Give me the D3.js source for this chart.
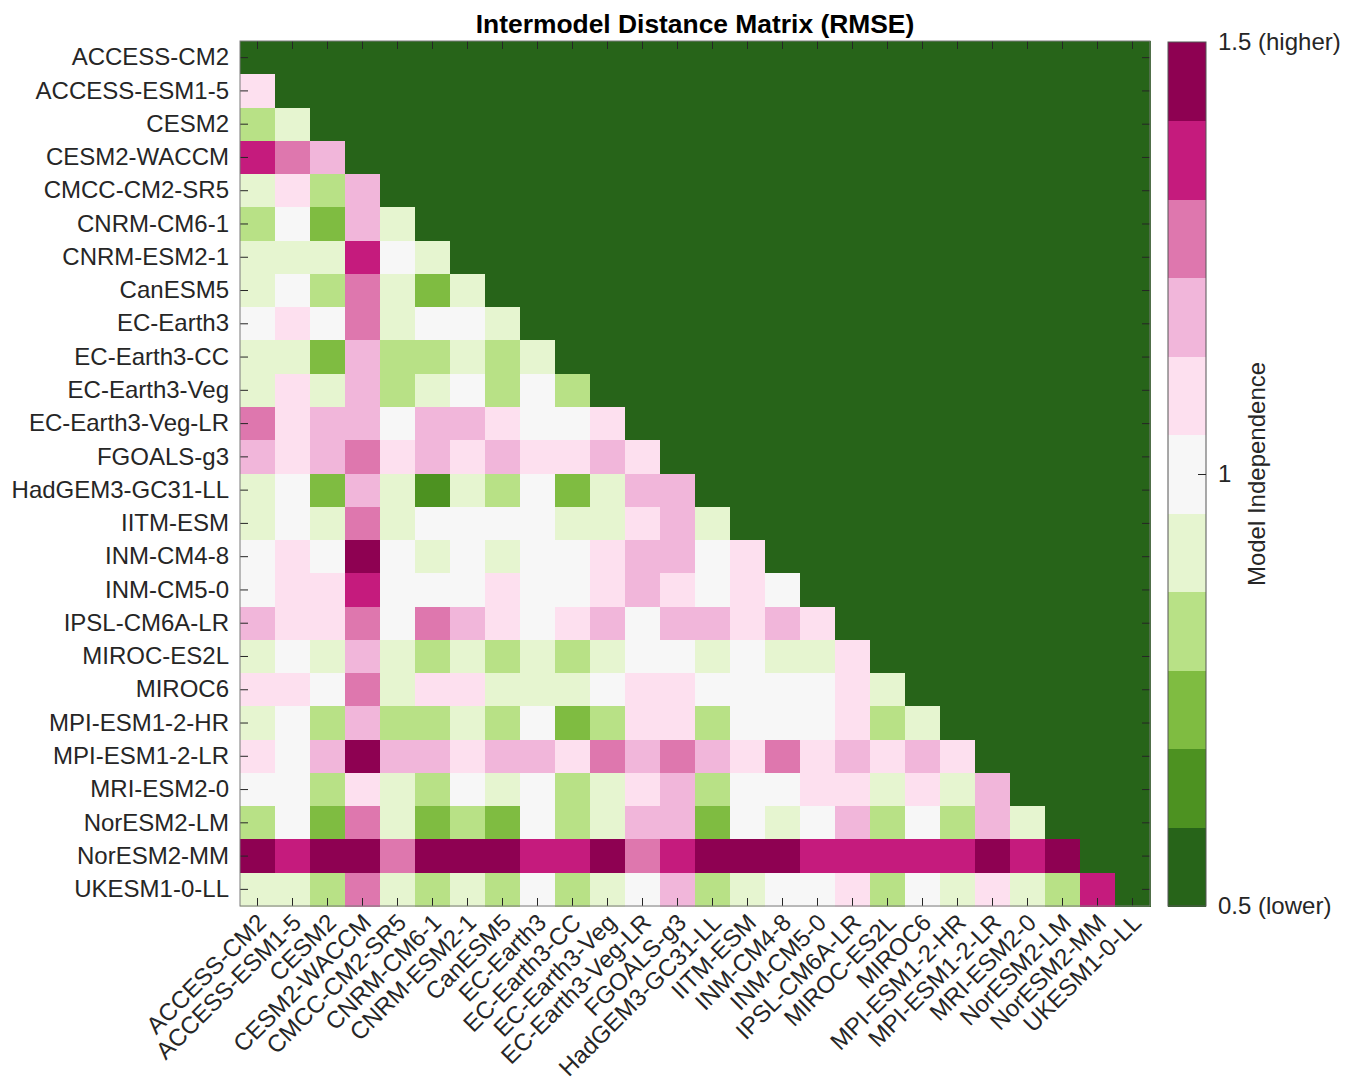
<!DOCTYPE html>
<html>
<head>
<meta charset="utf-8">
<script src="https://cdn.jsdelivr.net/npm/d3@7"></script>
<style>
  html, body { margin: 0; padding: 0; background: #ffffff; }
  svg { display: block; }
  text { font-family: "Liberation Sans", Arial, Helvetica, sans-serif; }
</style>
</head>
<body>
<svg id="chart" width="1357" height="1081"></svg>
<script>
// Climate models compared in the distance matrix (row and column order)
const models = [
  "ACCESS-CM2", "ACCESS-ESM1-5", "CESM2", "CESM2-WACCM", "CMCC-CM2-SR5",
  "CNRM-CM6-1", "CNRM-ESM2-1", "CanESM5", "EC-Earth3", "EC-Earth3-CC",
  "EC-Earth3-Veg", "EC-Earth3-Veg-LR", "FGOALS-g3", "HadGEM3-GC31-LL", "IITM-ESM",
  "INM-CM4-8", "INM-CM5-0", "IPSL-CM6A-LR", "MIROC-ES2L", "MIROC6",
  "MPI-ESM1-2-HR", "MPI-ESM1-2-LR", "MRI-ESM2-0", "NorESM2-LM", "NorESM2-MM",
  "UKESM1-0-LL"
];

// Lower triangle of the normalised RMSE distance matrix.
// Row k holds the distances of models[k + 1] to models[0 .. k].
const lowerTriangle = [
  [1.09],
  [0.82, 0.91],
  [1.36, 1.27, 1.18],
  [0.91, 1.09, 0.82, 1.18],
  [0.82, 1.00, 0.73, 1.18, 0.91],
  [0.91, 0.91, 0.91, 1.36, 1.00, 0.91],
  [0.91, 1.00, 0.82, 1.27, 0.91, 0.73, 0.91],
  [1.00, 1.09, 1.00, 1.27, 0.91, 1.00, 1.00, 0.91],
  [0.91, 0.91, 0.73, 1.18, 0.82, 0.82, 0.91, 0.82, 0.91],
  [0.91, 1.09, 0.91, 1.18, 0.82, 0.91, 1.00, 0.82, 1.00, 0.82],
  [1.27, 1.09, 1.18, 1.18, 1.00, 1.18, 1.18, 1.09, 1.00, 1.00, 1.09],
  [1.18, 1.09, 1.18, 1.27, 1.09, 1.18, 1.09, 1.18, 1.09, 1.09, 1.18, 1.09],
  [0.91, 1.00, 0.73, 1.18, 0.91, 0.64, 0.91, 0.82, 1.00, 0.73, 0.91, 1.18, 1.18],
  [0.91, 1.00, 0.91, 1.27, 0.91, 1.00, 1.00, 1.00, 1.00, 0.91, 0.91, 1.09, 1.18, 0.91],
  [1.00, 1.09, 1.00, 1.45, 1.00, 0.91, 1.00, 0.91, 1.00, 1.00, 1.09, 1.18, 1.18, 1.00, 1.09],
  [1.00, 1.09, 1.09, 1.36, 1.00, 1.00, 1.00, 1.09, 1.00, 1.00, 1.09, 1.18, 1.09, 1.00, 1.09, 1.00],
  [1.18, 1.09, 1.09, 1.27, 1.00, 1.27, 1.18, 1.09, 1.00, 1.09, 1.18, 1.00, 1.18, 1.18, 1.09, 1.18, 1.09],
  [0.91, 1.00, 0.91, 1.18, 0.91, 0.82, 0.91, 0.82, 0.91, 0.82, 0.91, 1.00, 1.00, 0.91, 1.00, 0.91, 0.91, 1.09],
  [1.09, 1.09, 1.00, 1.27, 0.91, 1.09, 1.09, 0.91, 0.91, 0.91, 1.00, 1.09, 1.09, 1.00, 1.00, 1.00, 1.00, 1.09, 0.91],
  [0.91, 1.00, 0.82, 1.18, 0.82, 0.82, 0.91, 0.82, 1.00, 0.73, 0.82, 1.09, 1.09, 0.82, 1.00, 1.00, 1.00, 1.09, 0.82, 0.91],
  [1.09, 1.00, 1.18, 1.45, 1.18, 1.18, 1.09, 1.18, 1.18, 1.09, 1.27, 1.18, 1.27, 1.18, 1.09, 1.27, 1.09, 1.18, 1.09, 1.18, 1.09],
  [1.00, 1.00, 0.82, 1.09, 0.91, 0.82, 1.00, 0.91, 1.00, 0.82, 0.91, 1.09, 1.18, 0.82, 1.00, 1.00, 1.09, 1.09, 0.91, 1.09, 0.91, 1.18],
  [0.82, 1.00, 0.73, 1.27, 0.91, 0.73, 0.82, 0.73, 1.00, 0.82, 0.91, 1.18, 1.18, 0.73, 1.00, 0.91, 1.00, 1.18, 0.82, 1.00, 0.82, 1.18, 0.91],
  [1.45, 1.36, 1.45, 1.45, 1.27, 1.45, 1.45, 1.45, 1.36, 1.36, 1.45, 1.27, 1.36, 1.45, 1.45, 1.45, 1.36, 1.36, 1.36, 1.36, 1.36, 1.45, 1.36, 1.45],
  [0.91, 0.91, 0.82, 1.27, 0.91, 0.82, 0.91, 0.82, 1.00, 0.82, 0.91, 1.00, 1.18, 0.82, 0.91, 1.00, 1.00, 1.09, 0.82, 1.00, 0.91, 1.09, 0.91, 0.82, 1.36]
];

// Discrete diverging palette (low -> high), 11 classes over the colour range
const paletteColors = [
  "#276419", "#4d9221", "#7fbc41", "#b8e186", "#e6f5d0", "#f7f7f7",
  "#fde0ef", "#f1b6da", "#de77ae", "#c51b7d", "#8e0152"
];
const colorRange = [0.5, 1.5];

// Colour bar annotation
const colorbarTicks = [0.5, 1, 1.5];
const colorbarTickLabels = ["0.5 (lower)", "1", "1.5 (higher)"];
const colorbarTitle = "Model Independence";
const chartTitle = "Intermodel Distance Matrix (RMSE)";

const svg = d3.select("#chart");
const FONT = 24;
const ink = "#262626";

const plot = { left: 240, right: 1150, top: 41, bottom: 906 };

const x = d3.scaleBand().domain(models).range([plot.left, plot.right]);
const y = d3.scaleBand().domain(models).range([plot.top, plot.bottom]);
const color = d3.scaleQuantize().domain(colorRange).range(paletteColors);

// Full square grid: the lower triangle carries distances, the diagonal and
// upper triangle are empty and take the lowest colour class.
const cells = [];
models.forEach((rowModel, i) => {
  models.forEach((colModel, j) => {
    const v = j < i ? lowerTriangle[i - 1][j] : NaN;
    cells.push({ row: rowModel, col: colModel, value: v });
  });
});

svg.append("g")
  .attr("class", "cells")
  .selectAll("rect")
  .data(cells)
  .join("rect")
  .attr("x", d => x(d.col))
  .attr("y", d => y(d.row))
  .attr("width", x.bandwidth() + 0.5)
  .attr("height", y.bandwidth() + 0.5)
  .attr("fill", d => isNaN(d.value) ? color(colorRange[0]) : color(d.value))
  .attr("shape-rendering", "crispEdges");

// Axes with inward ticks on all four sides
function styleAxis(g) {
  g.select(".domain").remove();
  g.selectAll(".tick line").attr("stroke", ink).attr("stroke-width", 1);
  g.selectAll(".tick text")
    .attr("fill", ink)
    .style("font-size", FONT + "px");
}

svg.append("g")
  .attr("transform", `translate(${plot.left},0)`)
  .call(d3.axisLeft(y).tickSize(-8).tickPadding(11))
  .call(styleAxis)
  .selectAll(".tick text")
  .attr("dy", "0.32em");

svg.append("g")
  .attr("transform", `translate(${plot.right},0)`)
  .call(d3.axisRight(y).tickSize(-8).tickFormat(""))
  .call(styleAxis);

svg.append("g")
  .attr("transform", `translate(0,${plot.top})`)
  .call(d3.axisTop(x).tickSize(-8).tickFormat(""))
  .call(styleAxis);

const xAxis = svg.append("g")
  .attr("transform", `translate(0,${plot.bottom})`)
  .call(d3.axisBottom(x).tickSize(-8))
  .call(styleAxis);

xAxis.selectAll(".tick text")
  .attr("text-anchor", "end")
  .attr("x", 0)
  .attr("y", 0)
  .attr("dy", "0.36em")
  .attr("transform", "translate(4,12) rotate(-45)");

// Plot frame
svg.append("rect")
  .attr("x", plot.left)
  .attr("y", plot.top)
  .attr("width", plot.right - plot.left)
  .attr("height", plot.bottom - plot.top)
  .attr("fill", "none")
  .attr("stroke", "#7a7a7a")
  .attr("stroke-width", 1);

// Title
svg.append("text")
  .attr("x", (plot.left + plot.right) / 2)
  .attr("y", 33)
  .attr("text-anchor", "middle")
  .attr("font-weight", "bold")
  .attr("fill", "#000")
  .style("font-size", (FONT * 1.1) + "px")
  .text(chartTitle);

// Colour bar
const cb = { x: 1168, width: 38, top: 42, bottom: 906 };
const cbScale = d3.scaleLinear().domain(colorRange).range([cb.bottom, cb.top]);

const bins = paletteColors.map(c => {
  const [lo, hi] = color.invertExtent(c);
  return { color: c, lo, hi };
});

svg.append("g")
  .selectAll("rect")
  .data(bins)
  .join("rect")
  .attr("x", cb.x)
  .attr("y", d => cbScale(d.hi))
  .attr("width", cb.width)
  .attr("height", d => cbScale(d.lo) - cbScale(d.hi) + 0.5)
  .attr("fill", d => d.color)
  .attr("shape-rendering", "crispEdges");

svg.append("rect")
  .attr("x", cb.x)
  .attr("y", cb.top)
  .attr("width", cb.width)
  .attr("height", cb.bottom - cb.top)
  .attr("fill", "none")
  .attr("stroke", "#555")
  .attr("stroke-width", 1);

const cbAxis = svg.append("g")
  .attr("transform", `translate(${cb.x + cb.width},0)`)
  .call(d3.axisRight(cbScale)
    .tickValues(colorbarTicks)
    .tickSize(-8)
    .tickPadding(12)
    .tickFormat((d, i) => colorbarTickLabels[i]))
  .call(styleAxis);

cbAxis.selectAll(".tick text").attr("dy", "0.32em");
cbAxis.selectAll(".tick line").attr("display", d => d === 1 ? null : "none");

svg.append("text")
  .attr("transform", `translate(1265,${(cb.top + cb.bottom) / 2}) rotate(-90)`)
  .attr("text-anchor", "middle")
  .attr("fill", ink)
  .style("font-size", FONT + "px")
  .text(colorbarTitle);
</script>
</body>
</html>
